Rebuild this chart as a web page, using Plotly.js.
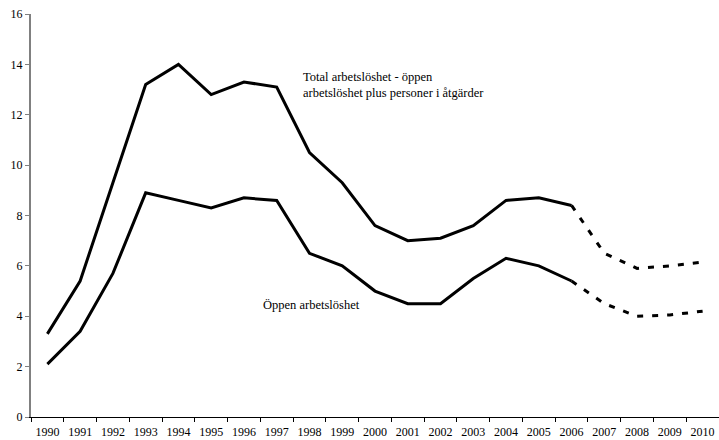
<!DOCTYPE html>
<html>
<head>
<meta charset="utf-8">
<script src="https://cdn.plot.ly/plotly-3.0.1.min.js"></script>
<style>html,body{margin:0;padding:0;background:#fff;}#chart{width:719px;height:440px;}</style>
</head>
<body>
<div id="chart"></div>
<script>
const years = ['1990','1991','1992','1993','1994','1995','1996','1997','1998','1999','2000','2001','2002','2003','2004','2005','2006','2007','2008','2009','2010'];
const totalActual = [3.3,5.4,9.3,13.2,14.0,12.8,13.3,13.1,10.5,9.3,7.6,7.0,7.1,7.6,8.6,8.7,8.4,null,null,null,null];
const totalForecast = [null,null,null,null,null,null,null,null,null,null,null,null,null,null,null,null,8.4,6.5,5.9,6.0,6.15];
const openActual = [2.1,3.4,5.7,8.9,8.6,8.3,8.7,8.6,6.5,6.0,5.0,4.5,4.5,5.5,6.3,6.0,5.4,null,null,null,null];
const openForecast = [null,null,null,null,null,null,null,null,null,null,null,null,null,null,null,null,5.4,4.5,4.0,4.05,4.2];
const yTicks = [0,2,4,6,8,10,12,14,16];

const serif = 'Liberation Serif, Times New Roman, serif';
const solid = {color:'#000', width:3};
const dashed = {color:'#000', width:3, dash:'6px,9px'};

const traces = [
  {x:years, y:totalActual, type:'scatter', mode:'lines', line:solid, hoverinfo:'skip'},
  {x:years, y:totalForecast, type:'scatter', mode:'lines', line:dashed, hoverinfo:'skip'},
  {x:years, y:openActual, type:'scatter', mode:'lines', line:solid, hoverinfo:'skip'},
  {x:years, y:openForecast, type:'scatter', mode:'lines', line:dashed, hoverinfo:'skip'}
];

const layout = {
  width:719, height:440,
  margin:{l:31, r:0, t:14, b:23},
  paper_bgcolor:'#fff', plot_bgcolor:'#fff',
  showlegend:false,
  font:{family:serif, size:12, color:'#000'},
  xaxis:{
    type:'category', range:[-0.5,20.5], tickson:'boundaries',
    ticks:'outside', ticklen:4, tickcolor:'#000', tickwidth:1,
    showline:true, linecolor:'#000', linewidth:1,
    showgrid:false, zeroline:false, fixedrange:true,
    tickangle:0, ticklabelstandoff:4,
    tickfont:{family:serif, size:12, color:'#000'}
  },
  yaxis:{
    range:[0,16], tickvals:yTicks, ticktext:yTicks.map(String),
    ticks:'outside', ticklen:4, tickcolor:'#808080', tickwidth:1,
    showline:true, linecolor:'#808080', linewidth:2,
    showgrid:false, zeroline:false, fixedrange:true,
    tickfont:{family:serif, size:12, color:'#000'}
  },
  annotations:[
    {xref:'paper', yref:'paper', x:(301-31)/688, y:(440-23-77)/403, xanchor:'left', yanchor:'middle', align:'left', showarrow:false,
     text:'Total arbetslöshet - öppen', font:{family:serif, size:12.5, color:'#000'}},
    {xref:'paper', yref:'paper', x:(301-31)/688, y:(440-23-93)/403, xanchor:'left', yanchor:'middle', align:'left', showarrow:false,
     text:'arbetslöshet plus personer i åtgärder', font:{family:serif, size:12.5, color:'#000'}},
    {xref:'paper', yref:'paper', x:(261-31)/688, y:(440-23-305)/403, xanchor:'left', yanchor:'middle', align:'left', showarrow:false,
     text:'Öppen arbetslöshet', font:{family:serif, size:12.5, color:'#000'}}
  ]
};

Plotly.newPlot('chart', traces, layout, {displayModeBar:false, staticPlot:true});
</script>
</body>
</html>
